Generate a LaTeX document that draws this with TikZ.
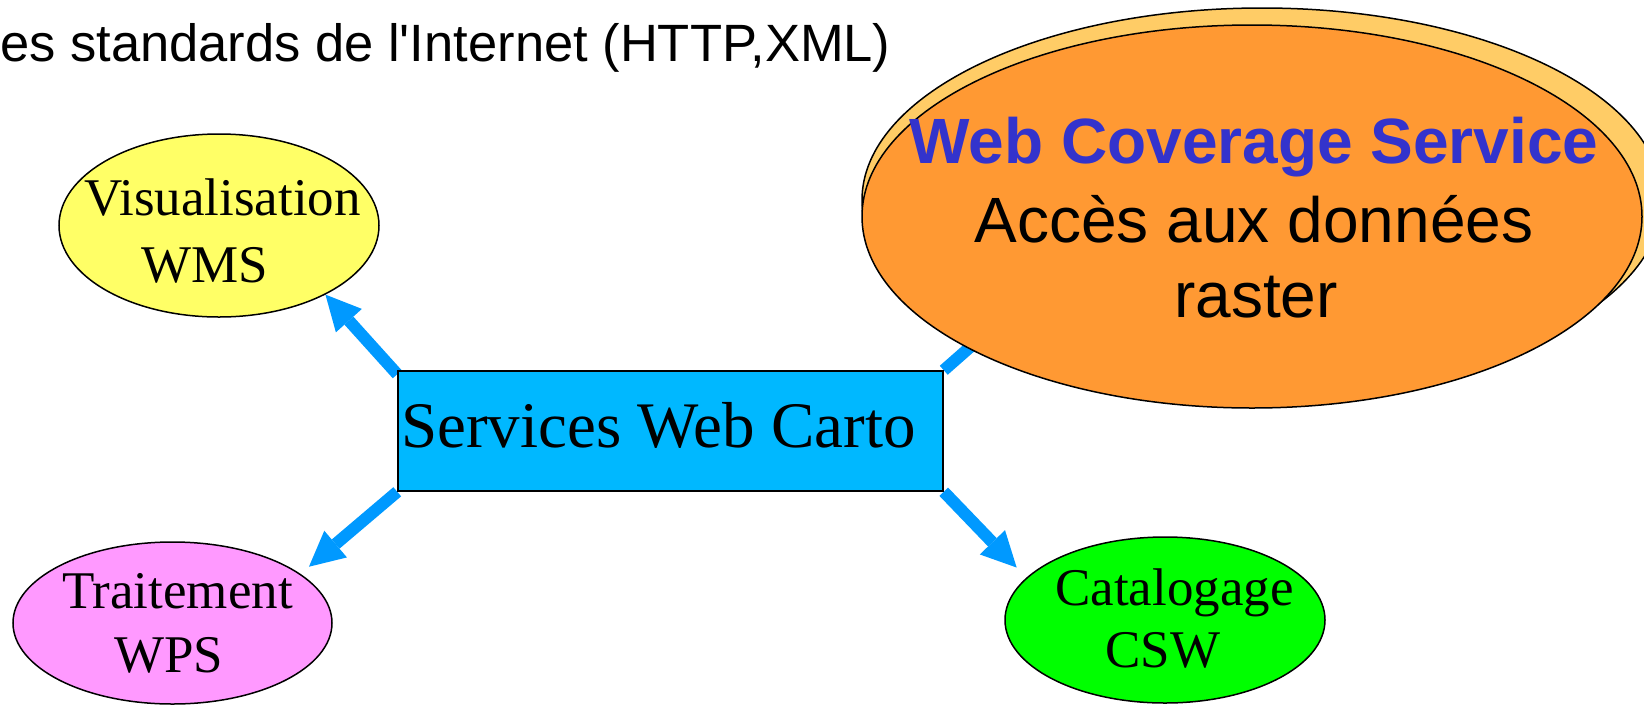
\documentclass[tikz,border=0pt]{standalone}
\usepackage{fontspec}
\setmainfont{Liberation Serif}
\newfontfamily\arialfont{Liberation Sans}[Ligatures=TeXOff]
\usetikzlibrary{shapes.geometric,arrows.meta,backgrounds}
\definecolor{arrowblue}{RGB}{0,153,255}
\definecolor{rectblue}{RGB}{0,184,255}
\definecolor{visyellow}{RGB}{255,255,102}
\definecolor{trtpink}{RGB}{255,153,255}
\definecolor{catgreen}{RGB}{0,255,0}
\definecolor{wcsorange}{RGB}{255,153,51}
\definecolor{wcsback}{RGB}{255,204,102}
\definecolor{wcsblue}{RGB}{51,51,204}
\begin{document}
\begin{tikzpicture}[x=1pt,y=-1pt,
  bubble/.style={ellipse,draw=black,line width=1.5pt,inner sep=0pt},
  serif/.style={anchor=base west,inner sep=0pt,font=\fontsize{53}{53}\selectfont},
  sanslabel/.style={anchor=base,inner sep=0pt,font=\arialfont\fontsize{64}{64}\selectfont},
  conn/.style={draw=arrowblue,line width=12pt,-{Triangle[length=35pt,width=35pt,line width=0pt]}}]
\useasboundingbox (0,0) rectangle (1644,705);

% shapes
\node[bubble, fill=wcsback, minimum width=800pt, minimum height=384pt] (wcsb) at (1262,200) {};
\node[bubble, fill=wcsorange, minimum width=780pt, minimum height=383pt] (wcs) at (1252,216.5) {};
\node[bubble, fill=visyellow, minimum width=320pt, minimum height=183pt] (vis) at (219,225.5) {};
\node[bubble, fill=trtpink, minimum width=319pt, minimum height=162pt] (trt) at (172.5,623) {};
\node[bubble, fill=catgreen, minimum width=320pt, minimum height=166pt] (cat) at (1165,620) {};
\node[draw=black, line width=1.5pt, fill=rectblue, minimum width=545pt, minimum height=120pt, inner sep=0pt] (swc) at (670.5,431) {};
\coordinate (wcsin) at (1010,312);

% connectors
\begin{scope}[on background layer]
\fill[white] (0,0) rectangle (1644,705);
\draw[conn] ([yshift=-4pt]swc.north west) -- (vis.-33.5);
\draw[conn, shorten >=11pt] (swc.south west) -- (trt.21);
\draw[conn, shorten >=14pt] (swc.south east) -- (cat.163);
\draw[conn] (swc.north east) -- (wcsin);
\end{scope}

% texts
\node[anchor=base west, inner sep=0pt, font=\arialfont\fontsize{52.5}{52.5}\selectfont] (toptext) at (0,61) {es standards de l'Internet (HTTP,XML)};
\node[serif] (vist) at (84,215) {Visualisation};
\node[serif] (visw) at (141,282) {WMS};
\node[serif] (trtt) at (62,608) {Traitement};
\node[serif] (trtw) at (114,672) {WPS};
\node[serif] (catt) at (1055,605) {Catalogage};
\node[serif] (catw) at (1105,667) {CSW};
\node[anchor=base west, inner sep=0pt, font=\fontsize{65}{65}\selectfont] (swct) at (401,447) {Services Web Carto};
\node[sanslabel, font=\arialfont\bfseries\fontsize{64}{64}\selectfont, text=wcsblue] (wcst) at (1254,163) {Web Coverage Service};
\node[sanslabel] (wcsa) at (1254,242) {Accès aux données};
\node[sanslabel] (wcsr) at (1256,317) {raster};
\end{tikzpicture}
\end{document}
